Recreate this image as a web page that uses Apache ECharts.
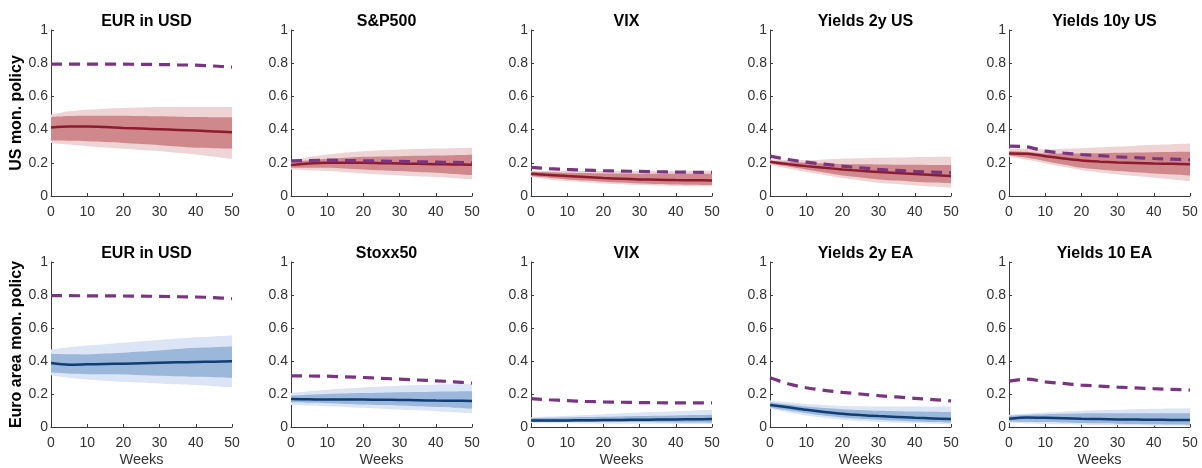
<!DOCTYPE html>
<html><head><meta charset="utf-8">
<script src="https://cdn.jsdelivr.net/npm/echarts@6/dist/echarts.min.js"></script>
<style>html,body{margin:0;padding:0;background:#fff}#c{width:1202px;height:468px}</style>
</head><body><div id="c"></div>
<script>
// ---------------- DATA ----------------
const weeks = [0, 5, 10, 15, 20, 25, 30, 35, 40, 45, 50];
const yTickValues = [0, 0.2, 0.4, 0.6, 0.8, 1];
const titles = ['EUR in USD', 'S&P500', 'VIX', 'Yields 2y US', 'Yields 10y US',
                'EUR in USD', 'Stoxx50', 'VIX', 'Yields 2y EA', 'Yields 10 EA'];
const rowLabels = ['US mon. policy', 'Euro area mon. policy'];
const xName = 'Weeks';

// Panel 1: EUR in USD (US)
const p1_med  = [0.412, 0.418, 0.418, 0.415, 0.41, 0.406, 0.402, 0.398, 0.394, 0.389, 0.384];
const p1_dHi  = [0.476, 0.482, 0.484, 0.484, 0.484, 0.482, 0.48, 0.478, 0.476, 0.475, 0.474];
const p1_dLo  = [0.334, 0.333, 0.33, 0.325, 0.32, 0.313, 0.306, 0.298, 0.29, 0.288, 0.286];
const p1_lHi  = [0.49, 0.51, 0.52, 0.526, 0.53, 0.533, 0.536, 0.536, 0.536, 0.536, 0.536];
const p1_lLo  = [0.32, 0.31, 0.30, 0.292, 0.284, 0.277, 0.27, 0.26, 0.25, 0.237, 0.224];
const p1_dash = [0.795, 0.795, 0.795, 0.794, 0.794, 0.793, 0.792, 0.79, 0.788, 0.783, 0.776];
// Panel 2: S&P500
const p2_med  = [0.186, 0.196, 0.2, 0.2, 0.2, 0.198, 0.196, 0.194, 0.192, 0.19, 0.188];
const p2_dHi  = [0.206, 0.216, 0.224, 0.23, 0.236, 0.238, 0.24, 0.242, 0.244, 0.246, 0.248];
const p2_dLo  = [0.17, 0.17, 0.17, 0.165, 0.16, 0.155, 0.15, 0.145, 0.14, 0.133, 0.126];
const p2_lHi  = [0.212, 0.235, 0.25, 0.262, 0.27, 0.276, 0.28, 0.283, 0.286, 0.288, 0.29];
const p2_lLo  = [0.16, 0.155, 0.15, 0.143, 0.136, 0.13, 0.124, 0.119, 0.114, 0.107, 0.10];
const p2_dash = [0.212, 0.214, 0.216, 0.214, 0.212, 0.21, 0.208, 0.206, 0.204, 0.202, 0.20];
// Panel 3: VIX (US)
const p3_med  = [0.134, 0.127, 0.12, 0.114, 0.108, 0.104, 0.10, 0.098, 0.096, 0.095, 0.094];
const p3_dHi  = [0.146, 0.143, 0.14, 0.138, 0.136, 0.135, 0.134, 0.134, 0.134, 0.134, 0.134];
const p3_dLo  = [0.12, 0.11, 0.10, 0.093, 0.086, 0.081, 0.076, 0.073, 0.07, 0.068, 0.066];
const p3_lHi  = [0.15, 0.15, 0.15, 0.15, 0.15, 0.15, 0.15, 0.151, 0.151, 0.152, 0.152];
const p3_lLo  = [0.114, 0.10, 0.09, 0.083, 0.076, 0.071, 0.066, 0.063, 0.06, 0.058, 0.056];
const p3_dash = [0.172, 0.165, 0.16, 0.156, 0.152, 0.15, 0.148, 0.146, 0.144, 0.143, 0.142];
// Panel 4: Yields 2y US
const p4_med  = [0.206, 0.192, 0.18, 0.17, 0.16, 0.152, 0.144, 0.138, 0.132, 0.126, 0.12];
const p4_dHi  = [0.212, 0.206, 0.2, 0.196, 0.192, 0.191, 0.19, 0.189, 0.188, 0.187, 0.186];
const p4_dLo  = [0.196, 0.178, 0.16, 0.142, 0.124, 0.112, 0.10, 0.093, 0.086, 0.081, 0.076];
const p4_lHi  = [0.22, 0.218, 0.216, 0.22, 0.224, 0.227, 0.23, 0.232, 0.234, 0.235, 0.236];
const p4_lLo  = [0.188, 0.165, 0.144, 0.126, 0.108, 0.094, 0.08, 0.072, 0.064, 0.057, 0.05];
const p4_dash = [0.24, 0.22, 0.204, 0.192, 0.18, 0.17, 0.16, 0.154, 0.148, 0.144, 0.14];
// Panel 5: Yields 10y US
const p5_med  = [0.256, 0.254, 0.24, 0.226, 0.214, 0.207, 0.202, 0.199, 0.196, 0.194, 0.192];
const p5_dHi  = [0.27, 0.266, 0.256, 0.256, 0.256, 0.258, 0.26, 0.262, 0.264, 0.265, 0.266];
const p5_dLo  = [0.244, 0.23, 0.21, 0.19, 0.17, 0.16, 0.15, 0.143, 0.136, 0.13, 0.124];
const p5_lHi  = [0.286, 0.284, 0.28, 0.284, 0.288, 0.293, 0.298, 0.303, 0.308, 0.312, 0.316];
const p5_lLo  = [0.236, 0.218, 0.196, 0.176, 0.156, 0.142, 0.13, 0.12, 0.11, 0.10, 0.09];
const p5_dash = [0.30, 0.296, 0.27, 0.259, 0.25, 0.243, 0.236, 0.231, 0.226, 0.222, 0.218];
// Panel 6: EUR in USD (EA)
const p6_med  = [0.388, 0.378, 0.38, 0.382, 0.384, 0.387, 0.39, 0.392, 0.394, 0.396, 0.398];
const p6_dHi  = [0.444, 0.441, 0.44, 0.445, 0.45, 0.457, 0.464, 0.472, 0.48, 0.484, 0.488];
const p6_dLo  = [0.33, 0.324, 0.32, 0.319, 0.318, 0.314, 0.31, 0.307, 0.304, 0.301, 0.298];
const p6_lHi  = [0.47, 0.484, 0.494, 0.502, 0.51, 0.519, 0.528, 0.536, 0.544, 0.549, 0.554];
const p6_lLo  = [0.314, 0.298, 0.288, 0.281, 0.274, 0.269, 0.264, 0.259, 0.254, 0.247, 0.24];
const p6_dash = [0.796, 0.796, 0.795, 0.795, 0.794, 0.793, 0.792, 0.79, 0.788, 0.784, 0.778];
// Panel 7: Stoxx50
const p7_med  = [0.17, 0.168, 0.166, 0.166, 0.166, 0.165, 0.164, 0.162, 0.16, 0.159, 0.158];
const p7_dHi  = [0.19, 0.196, 0.2, 0.203, 0.206, 0.208, 0.21, 0.212, 0.214, 0.215, 0.216];
const p7_dLo  = [0.15, 0.147, 0.144, 0.14, 0.136, 0.133, 0.13, 0.126, 0.122, 0.117, 0.112];
const p7_lHi  = [0.206, 0.217, 0.226, 0.233, 0.24, 0.245, 0.25, 0.254, 0.258, 0.259, 0.26];
const p7_lLo  = [0.134, 0.13, 0.126, 0.121, 0.116, 0.111, 0.106, 0.101, 0.096, 0.089, 0.082];
const p7_dash = [0.31, 0.309, 0.308, 0.304, 0.30, 0.295, 0.29, 0.285, 0.28, 0.274, 0.266];
// Panel 8: VIX (EA)
const p8_med  = [0.04, 0.04, 0.04, 0.041, 0.042, 0.043, 0.044, 0.045, 0.046, 0.047, 0.048];
const p8_dHi  = [0.054, 0.056, 0.058, 0.06, 0.062, 0.064, 0.066, 0.068, 0.07, 0.072, 0.074];
const p8_dLo  = [0.03, 0.03, 0.03, 0.03, 0.03, 0.03, 0.03, 0.029, 0.028, 0.027, 0.026];
const p8_lHi  = [0.058, 0.063, 0.068, 0.073, 0.078, 0.083, 0.088, 0.092, 0.096, 0.10, 0.104];
const p8_lLo  = [0.024, 0.023, 0.022, 0.021, 0.02, 0.02, 0.02, 0.019, 0.018, 0.018, 0.018];
const p8_dash = [0.172, 0.165, 0.16, 0.155, 0.152, 0.15, 0.148, 0.147, 0.146, 0.146, 0.146];
// Panel 9: Yields 2y EA
const p9_med  = [0.134, 0.12, 0.104, 0.091, 0.08, 0.072, 0.066, 0.061, 0.056, 0.052, 0.048];
const p9_dHi  = [0.15, 0.136, 0.124, 0.115, 0.108, 0.103, 0.098, 0.096, 0.094, 0.092, 0.09];
const p9_dLo  = [0.118, 0.10, 0.084, 0.07, 0.058, 0.05, 0.044, 0.039, 0.034, 0.031, 0.028];
const p9_lHi  = [0.16, 0.15, 0.14, 0.134, 0.128, 0.126, 0.124, 0.124, 0.124, 0.124, 0.124];
const p9_lLo  = [0.11, 0.088, 0.07, 0.056, 0.044, 0.036, 0.03, 0.026, 0.022, 0.02, 0.018];
const p9_dash = [0.298, 0.262, 0.238, 0.222, 0.21, 0.2, 0.19, 0.182, 0.174, 0.166, 0.158];
// Panel 10: Yields 10 EA
const p10_med  = [0.05, 0.058, 0.056, 0.053, 0.05, 0.048, 0.046, 0.045, 0.044, 0.043, 0.042];
const p10_dHi  = [0.068, 0.074, 0.078, 0.08, 0.082, 0.083, 0.084, 0.084, 0.084, 0.084, 0.084];
const p10_dLo  = [0.034, 0.032, 0.03, 0.027, 0.024, 0.022, 0.02, 0.018, 0.016, 0.015, 0.014];
const p10_lHi  = [0.074, 0.082, 0.088, 0.093, 0.098, 0.101, 0.104, 0.107, 0.11, 0.112, 0.114];
const p10_lLo  = [0.024, 0.021, 0.018, 0.016, 0.014, 0.012, 0.01, 0.009, 0.008, 0.007, 0.006];
const p10_dash = [0.278, 0.29, 0.274, 0.264, 0.254, 0.248, 0.242, 0.237, 0.232, 0.228, 0.224];

const panels = [
  [p1_med, p1_dHi, p1_dLo, p1_lHi, p1_lLo, p1_dash],
  [p2_med, p2_dHi, p2_dLo, p2_lHi, p2_lLo, p2_dash],
  [p3_med, p3_dHi, p3_dLo, p3_lHi, p3_lLo, p3_dash],
  [p4_med, p4_dHi, p4_dLo, p4_lHi, p4_lLo, p4_dash],
  [p5_med, p5_dHi, p5_dLo, p5_lHi, p5_lLo, p5_dash],
  [p6_med, p6_dHi, p6_dLo, p6_lHi, p6_lLo, p6_dash],
  [p7_med, p7_dHi, p7_dLo, p7_lHi, p7_lLo, p7_dash],
  [p8_med, p8_dHi, p8_dLo, p8_lHi, p8_lLo, p8_dash],
  [p9_med, p9_dHi, p9_dLo, p9_lHi, p9_lLo, p9_dash],
  [p10_med, p10_dHi, p10_dLo, p10_lHi, p10_lLo, p10_dash]
];

// ---------------- STYLE / LAYOUT ----------------
const FONT = '"Liberation Sans", Arial, Helvetica, sans-serif';
const AX = '#3a3a3a';
const palettes = [
  { line: '#8e1a2e', dark: '#cf898c', light: '#efd4d6' },
  { line: '#0f3d74', dark: '#9bb7d9', light: '#dbe5f6' }
];
const DASH = '#7a3580';
const lefts = [51, 291, 531, 770, 1009];
const gridW = 181;
const tops = [30, 262];
const heights = [166, 165];

const grids = [], xAxes = [], yAxes = [], series = [], titleArr = [];
panels.forEach((p, i) => {
  const row = Math.floor(i / 5), col = i % 5;
  const pal = palettes[row];
  grids.push({ left: lefts[col], top: tops[row], width: gridW, height: heights[row], containLabel: false });
  titleArr.push({
    text: titles[i], left: lefts[col] + gridW / 2, top: row === 0 ? 9 : 241, textAlign: 'center',
    textStyle: { fontFamily: FONT, fontSize: 16, fontWeight: 'bold', color: '#000' }
  });
  xAxes.push({
    type: 'category', gridIndex: i, data: weeks.map(String), boundaryGap: false,
    name: row === 1 ? xName : '', nameLocation: 'middle', nameGap: 25,
    nameTextStyle: { fontFamily: FONT, fontSize: 14.5, color: '#333' },
    axisLine: { lineStyle: { color: AX, width: 1 } },
    axisTick: { inside: true, length: 3, interval: 1, lineStyle: { color: AX } },
    axisLabel: { interval: 1, margin: 9, fontFamily: FONT, fontSize: 14, color: '#333' },
    splitLine: { show: false }
  });
  yAxes.push({
    type: 'value', gridIndex: i, min: 0, max: 1, interval: 0.2,
    name: col === 0 ? rowLabels[row] : '', nameLocation: 'middle', nameGap: 23, nameRotate: 90,
    nameTextStyle: { fontFamily: FONT, fontSize: 16, fontWeight: 'bold', color: '#000' },
    axisLine: { show: true, lineStyle: { color: AX, width: 1 } },
    axisTick: { show: true, inside: true, length: 3, lineStyle: { color: AX } },
    axisLabel: { margin: 3, fontFamily: FONT, fontSize: 14, color: '#333',
      formatter: v => String(yTickValues.find(t => Math.abs(t - v) < 1e-9) ?? v) },
    splitLine: { show: false }
  });
  const [med, dHi, dLo, lHi, lLo, dash] = p;
  const base = { type: 'line', xAxisIndex: i, yAxisIndex: i, symbol: 'none', smooth: 0.3, silent: true, animation: false };
  series.push(Object.assign({}, base, { stack: 'L' + i, data: lLo, lineStyle: { width: 0, opacity: 0 }, z: 1 }));
  series.push(Object.assign({}, base, { stack: 'L' + i, data: lHi.map((v, k) => v - lLo[k]),
    lineStyle: { width: 0, opacity: 0 }, areaStyle: { color: pal.light, opacity: 1 }, z: 1 }));
  series.push(Object.assign({}, base, { stack: 'D' + i, data: dLo, lineStyle: { width: 0, opacity: 0 }, z: 2 }));
  series.push(Object.assign({}, base, { stack: 'D' + i, data: dHi.map((v, k) => v - dLo[k]),
    lineStyle: { width: 0, opacity: 0 }, areaStyle: { color: pal.dark, opacity: 1 }, z: 2 }));
  series.push(Object.assign({}, base, { data: med, lineStyle: { color: pal.line, width: 2.5 }, z: 3 }));
  series.push(Object.assign({}, base, { data: dash, lineStyle: { color: DASH, width: 3.2, type: [11, 7] }, z: 4 }));
});

const chart = echarts.init(document.getElementById('c'), null, { renderer: 'canvas' });
chart.setOption({
  animation: false,
  backgroundColor: '#fff',
  title: titleArr,
  grid: grids,
  xAxis: xAxes,
  yAxis: yAxes,
  series: series
});
</script>
</body></html>
